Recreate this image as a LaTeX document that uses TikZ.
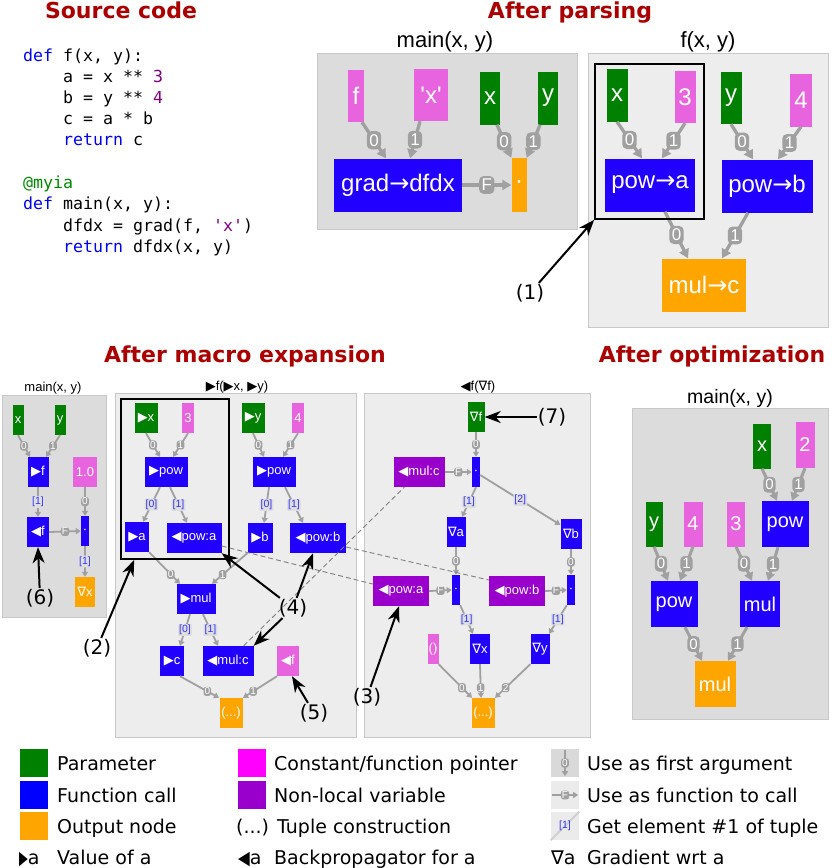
\documentclass[tikz,border=0pt]{standalone}
\usepackage{fontspec}
\setmainfont{DejaVu Sans}
\setmonofont{DejaVu Sans Mono}
\newfontfamily\nodefont{Liberation Sans}
\newfontfamily\dejavu{DejaVu Sans}
\usepackage{graphicx}
\usepackage{tikz}
\usetikzlibrary{arrows.meta}

\definecolor{parmgreen}{RGB}{0,128,0}
\definecolor{callblue}{RGB}{34,0,255}
\definecolor{outorange}{RGB}{255,165,0}
\definecolor{cstpink}{RGB}{232,100,222}
\definecolor{nlpurple}{RGB}{153,0,204}
\definecolor{edgegray}{RGB}{160,160,160}
\definecolor{paneldark}{RGB}{220,220,220}
\definecolor{panellight}{RGB}{237,237,237}
\definecolor{panelline}{RGB}{200,200,200}
\definecolor{headred}{RGB}{170,0,0}
\definecolor{idxblue}{RGB}{51,51,255}
\definecolor{kwblue}{RGB}{0,0,238}
\definecolor{numpurple}{RGB}{128,0,128}
\definecolor{decgreen}{RGB}{0,136,0}
\definecolor{lmagenta}{RGB}{255,0,255}

\newcommand\fwd{{\dejavu ▶}}
\newcommand\bwd{{\dejavu ◀}}
\newcommand\grd{{\dejavu ∇}}
\newcommand\arr{{\dejavu →}}
\newcommand\kw[1]{\textcolor{kwblue}{#1}}
\newcommand\lit[1]{\textcolor{numpurple}{#1}}
\newcommand\deco[1]{\textcolor{decgreen}{#1}}

\tikzset{
  heading/.style={anchor=base, text=headred, font=\bfseries\fontsize{22}{22}\selectfont},
  src/.style={anchor=base west, inner sep=0pt, font=\ttfamily\fontsize{16.6}{20}\selectfont},
  ptitle/.style={anchor=base, inner sep=0pt},
  pdark/.style={fill=paneldark, draw=panelline, line width=1pt},
  plight/.style={fill=panellight, draw=panelline, line width=1pt},
  sz/.style 2 args={minimum width=#1, minimum height=#2},
  box/.style={inner sep=0pt, text=white},
  parm/.style={box, fill=parmgreen},
  cst/.style={box, fill=cstpink},
  call/.style={box, fill=callblue},
  outp/.style={box, fill=outorange},
  nlv/.style={box, fill=nlpurple},
  fbig/.style={font=\nodefont\fontsize{24}{24}\selectfont},
  fmid/.style={font=\nodefont\fontsize{20}{20}\selectfont},
  fsml/.style={font=\nodefont\fontsize{13}{13}\selectfont},
  ebig/.style={draw=edgegray, line width=3.3pt, -{Triangle[length=9pt,width=10pt]}},
  emid/.style={draw=edgegray, line width=3pt, -{Triangle[length=8pt,width=9pt]}},
  esml/.style={draw=edgegray, line width=1.8pt, -{Triangle[length=5pt,width=6pt]}},
  lab/.style={fill=edgegray, text=white, rounded corners=4.5pt, inner xsep=2.5pt, inner ysep=3pt, font=\nodefont\fontsize{17}{17}\selectfont},
  labm/.style={fill=edgegray, text=white, rounded corners=4pt, inner xsep=2pt, inner ysep=2.5pt, font=\nodefont\fontsize{15}{15}\selectfont},
  labs/.style={fill=edgegray, text=white, rounded corners=2.5pt, inner sep=1pt, font=\nodefont\fontsize{10}{10}\selectfont},
  idx/.style={fill=black!13, text=idxblue, rounded corners=1pt, inner sep=1pt, font=\nodefont\fontsize{10.5}{10.5}\selectfont},
  dsh/.style={draw=gray, line width=.9pt, dash pattern=on 5pt off 3pt},
  hl/.style={draw=black, line width=1.6pt, inner sep=0pt},
  note/.style={inner sep=1pt, font=\fontsize{20}{20}\selectfont},
  ptr/.style={line width=2pt, -{Stealth[length=16pt,width=12pt,inset=5pt]}},
  legsq/.style={minimum size=28, inner sep=0pt},
  legtxt/.style={anchor=base west, inner sep=0pt, font=\fontsize{19}{19}\selectfont},
  icon/.style={minimum size=28, inner sep=0pt, fill=black!15}
}

\begin{document}
\begin{tikzpicture}[x=1pt, y=-1pt]
  \useasboundingbox (0,0) rectangle (831,868);

  % headings
  \node[heading] (hsrc) at (121,18) {Source code};
  \node[heading] (hparse) at (570,18) {After parsing};
  \node[heading] (hmacro) at (245,362) {After macro expansion};
  \node[heading] (hopt) at (712,362) {After optimization};

  % source code
  \node[src] (c1) at (23,61) {\kw{def} f(x, y):};
  \node[src] (c2) at (63,82) {a = x ** \lit{3}};
  \node[src] (c3) at (63,103) {b = y ** \lit{4}};
  \node[src] (c4) at (63,124) {c = a * b};
  \node[src] (c5) at (63,145) {\kw{return} c};
  \node[src] (c6) at (23,188) {\deco{@myia}};
  \node[src] (c7) at (23,209) {\kw{def} main(x, y):};
  \node[src] (c8) at (63,231) {dfdx = grad(f, \lit{\textquotesingle x\textquotesingle})};
  \node[src] (c9) at (63,252) {\kw{return} dfdx(x, y)};

  % panels
  \draw[pdark] (317,53) rectangle (577,229);
  \draw[plight] (588,53) rectangle (828,327);
  \draw[pdark] (2,395) rectangle (106,617);
  \draw[plight] (115,393) rectangle (356,737);
  \draw[plight] (364,393) rectangle (590,737);
  \draw[pdark] (632,408) rectangle (828,719);
  \node[ptitle, font=\nodefont\fontsize{22}{22}\selectfont] (tmain) at (445,47) {main(x, y)};
  \node[ptitle, font=\nodefont\fontsize{22}{22}\selectfont] (tf) at (708,47) {f(x, y)};
  \node[ptitle, fsml] (tsmain) at (53,391) {main(x, y)};
  \node[ptitle, fsml] (tfwd) at (237,390) {\fwd f(\fwd x, \fwd y)};
  \node[ptitle, fsml] (tbwd) at (478,390) {\bwd f(\grd f)};
  \node[ptitle, font=\nodefont\fontsize{19.5}{19.5}\selectfont] (topt) at (730,403) {main(x, y)};

  % after parsing: main
  \node[cst, fbig, sz={16}{52}] (mf) at (356,96) {f};
  \node[cst, fbig, sz={34}{52}] (mxs) at (431,95) {\textquotesingle x\textquotesingle};
  \node[parm, fbig, sz={20}{53}] (mx) at (490,98) {x};
  \node[parm, fbig, sz={20}{53}] (my) at (548,98) {y};
  \node[call, fbig, sz={128}{53}] (mgrad) at (398,185) {grad\arr dfdx};
  \node[outp, fbig, sz={15}{54}] (mcall) at (519,185) {·};
  \draw[ebig] ([xshift=6]mf.south) -- node[lab]{0} ([xshift=-12]mgrad.north);
  \draw[ebig] ([xshift=-11]mxs.south) -- node[lab]{1} ([xshift=12]mgrad.north);
  \draw[ebig] ([xshift=7]mx.south) -- node[lab]{0} (mcall.north west);
  \draw[ebig] ([xshift=-8]my.south) -- node[lab]{1} (mcall.north east);
  \draw[ebig] (mgrad.east) -- node[lab]{F} (mcall.west);

  % after parsing: f
  \node[parm, fbig, sz={21}{53}] (fx) at (617,95) {x};
  \node[cst, fbig, sz={21}{52}] (f3) at (685,97) {3};
  \node[parm, fbig, sz={21}{52}] (fy) at (731,98) {y};
  \node[cst, fbig, sz={22}{53}] (f4) at (801,100) {4};
  \node[call, fbig, sz={90}{53}] (fpowa) at (650,185) {pow\arr a};
  \node[call, fbig, sz={91}{53}] (fpowb) at (767,186) {pow\arr b};
  \node[outp, fbig, sz={84}{53}] (fmul) at (704,285) {mul\arr c};
  \draw[ebig] (fx.south) -- node[lab]{0} ([xshift=-8]fpowa.north);
  \draw[ebig] (f3.south) -- node[lab]{1} ([xshift=12]fpowa.north);
  \draw[ebig] (fy.south) -- node[lab]{0} ([xshift=-14]fpowb.north);
  \draw[ebig] (f4.south) -- node[lab]{1} ([xshift=11]fpowb.north);
  \draw[ebig] ([xshift=15]fpowa.south) -- node[lab]{0} ([xshift=-16]fmul.north);
  \draw[ebig] ([xshift=-19]fpowb.south) -- node[lab]{1} ([xshift=18]fmul.north);
  \node[hl, sz={109}{155}] (hl1) at (649.5,141.5) {};

  % macro expansion: main
  \node[parm, fsml, sz={11}{30}] (sx) at (18,420) {x};
  \node[parm, fsml, sz={11}{30}] (sy) at (60,420) {y};
  \node[call, fsml, sz={21}{30}] (sff) at (38,472) {\fwd f};
  \node[cst, fsml, sz={24}{30}] (sone) at (85,472) {1.0};
  \node[call, fsml, sz={22}{30}] (sbf) at (38,532) {\bwd f};
  \node[call, fsml, sz={8}{30}] (scall) at (85,531) {·};
  \node[outp, fsml, sz={20}{30}] (sgx) at (85,592) {\grd x};
  \draw[esml] (sx.south) -- node[labs]{0} ([xshift=-8]sff.north);
  \draw[esml] (sy.south) -- node[labs]{1} ([xshift=8]sff.north);
  \draw[esml] (sff.south) -- node[idx]{[1]} (sbf.north);
  \draw[esml] (sone.south) -- node[labs]{0} (scall.north);
  \draw[esml] (sbf.east) -- node[labs]{F} (scall.west);
  \draw[esml] (scall.south) -- node[idx]{[1]} (sgx.north);

  % macro expansion: forward f
  \node[parm, fsml, sz={23}{30}] (bx) at (146,418) {\fwd x};
  \node[cst, fsml, sz={12}{30}] (b3) at (188,418) {3};
  \node[parm, fsml, sz={23}{30}] (by) at (253,418) {\fwd y};
  \node[cst, fsml, sz={12}{30}] (b4) at (298,418) {4};
  \node[call, fsml, sz={43}{30}] (bpowa) at (166,472) {\fwd pow};
  \node[call, fsml, sz={43}{30}] (bpowb) at (274,472) {\fwd pow};
  \node[call, fsml, sz={24}{30}] (ba) at (137,537) {\fwd a};
  \node[call, fsml, sz={55}{30}] (bpa) at (194,538) {\bwd pow:a};
  \node[call, fsml, sz={25}{30}] (bb) at (260,538) {\fwd b};
  \node[call, fsml, sz={56}{30}] (bpb) at (318,538) {\bwd pow:b};
  \node[call, fsml, sz={39}{30}] (bmul) at (196,599) {\fwd mul};
  \node[call, fsml, sz={24}{30}] (bc) at (172,661) {\fwd c};
  \node[call, fsml, sz={51}{30}] (bmc) at (228,661) {\bwd mul:c};
  \node[cst, fsml, sz={22}{30}] (bf) at (288,661) {\bwd f};
  \node[outp, fsml, sz={23}{30}] (btup) at (231,713) {(...)};
  \draw[esml] (bx.south) -- node[labs]{0} ([xshift=-6]bpowa.north);
  \draw[esml] (b3.south) -- node[labs]{1} ([xshift=7]bpowa.north);
  \draw[esml] (by.south) -- node[labs]{0} ([xshift=-10]bpowb.north);
  \draw[esml] (b4.south) -- node[labs]{1} ([xshift=9]bpowb.north);
  \draw[esml] ([xshift=-6]bpowa.south) -- node[idx]{[0]} ([xshift=6]ba.north);
  \draw[esml] ([xshift=4]bpowa.south) -- node[idx]{[1]} ([xshift=-7]bpa.north);
  \draw[esml] ([xshift=-5]bpowb.south) -- node[idx]{[0]} ([xshift=4]bb.north);
  \draw[esml] ([xshift=11]bpowb.south) -- node[idx]{[1]} ([xshift=-15]bpb.north);
  \draw[esml] (ba.south east) -- node[labs, pos=.7]{0} ([xshift=-16]bmul.north);
  \draw[esml] (bb.south west) -- node[labs, pos=.7]{1} ([xshift=16]bmul.north);
  \draw[esml] ([xshift=-6]bmul.south) -- node[idx]{[0]} ([xshift=8]bc.north);
  \draw[esml] ([xshift=7]bmul.south) -- node[idx]{[1]} ([xshift=-10]bmc.north);
  \draw[esml] ([xshift=8]bc.south) -- node[labs, pos=.7]{0} ([xshift=-12]btup.north);
  \draw[esml] ([xshift=-11]bf.south) -- node[labs, pos=.7]{1} ([xshift=12]btup.north);
  \node[hl, sz={108}{160}] (hl2) at (175,479) {};

  % macro expansion: backward f
  \node[parm, fsml, sz={17}{30}] (gf) at (476,417) {\grd f};
  \node[nlv, fsml, sz={51}{30}] (gmc) at (419,472) {\bwd mul:c};
  \node[call, fsml, sz={8}{30}] (gcall) at (476,472) {·};
  \node[call, fsml, sz={19}{30}] (ga) at (456,532) {\grd a};
  \node[call, fsml, sz={21}{30}] (gb) at (571,534) {\grd b};
  \node[nlv, fsml, sz={56}{30}] (gpa) at (401,591) {\bwd pow:a};
  \node[call, fsml, sz={8}{30}] (gcalla) at (456,590) {·};
  \node[nlv, fsml, sz={56}{30}] (gpb) at (517,591) {\bwd pow:b};
  \node[call, fsml, sz={8}{30}] (gcallb) at (571,590) {·};
  \node[cst, fsml, sz={11}{30}] (gnil) at (433,649) {()};
  \node[call, fsml, sz={20}{30}] (gx) at (480,649) {\grd x};
  \node[call, fsml, sz={19}{30}] (gy) at (540,649) {\grd y};
  \node[outp, fsml, sz={23}{30}] (gtup) at (483,713) {(...)};
  \draw[esml] (gf.south) -- node[labs]{0} (gcall.north);
  \draw[esml] (gmc.east) -- node[labs]{F} (gcall.west);
  \draw[esml] (gcall.south) -- node[idx]{[1]} ([xshift=6]ga.north);
  \draw[esml] ([yshift=-3]gcall.east) -- node[idx]{[2]} ([yshift=-6]gb.north west);
  \draw[esml] (ga.south) -- node[labs]{0} (gcalla.north);
  \draw[esml] (gb.south) -- node[labs]{0} (gcallb.north);
  \draw[esml] (gpa.east) -- node[labs]{F} (gcalla.west);
  \draw[esml] (gpb.east) -- node[labs]{F} (gcallb.west);
  \draw[esml] (gcalla.south east) -- node[idx]{[1]} ([xshift=-7]gx.north);
  \draw[esml] (gcallb.south west) -- node[idx]{[1]} ([xshift=9]gy.north);
  \draw[esml] (gnil.south east) -- node[labs, pos=.7]{0} ([xshift=-11]gtup.north);
  \draw[esml] (gx.south) -- node[labs, pos=.7]{1} ([xshift=-2]gtup.north);
  \draw[esml] (gy.south west) -- node[labs, pos=.7]{2} ([xshift=12]gtup.north);

  % non-local references
  \draw[dsh] ([yshift=-8]bpa.east) -- ([yshift=7]gpa.west);
  \draw[dsh] ([yshift=-9]bpb.east) -- ([yshift=11]gpb.west);
  \draw[dsh] ([xshift=-10]bmc.north east) -- ([xshift=11]gmc.south west);

  % after optimization
  \node[parm, fmid, sz={18}{45}] (ox) at (762,446) {x};
  \node[cst, fmid, sz={19}{46}] (o2) at (805,445) {2};
  \node[parm, fmid, sz={17}{45}] (oy) at (654,524) {y};
  \node[cst, fmid, sz={19}{45}] (o4) at (693,524) {4};
  \node[cst, fmid, sz={18}{45}] (o3) at (736,524) {3};
  \node[call, fmid, sz={47}{46}] (opow) at (785,524) {pow};
  \node[call, fmid, sz={47}{46}] (opowl) at (674,604) {pow};
  \node[call, fmid, sz={40}{46}] (omul) at (760,604) {mul};
  \node[outp, fmid, sz={41}{46}] (oout) at (715,684) {mul};
  \draw[emid] (ox.south) -- node[labm]{0} ([xshift=-8]opow.north);
  \draw[emid] (o2.south) -- node[labm]{1} ([xshift=7]opow.north);
  \draw[emid] (oy.south) -- node[labm]{0} ([xshift=-6]opowl.north);
  \draw[emid] (o4.south) -- node[labm]{1} ([xshift=6]opowl.north);
  \draw[emid] (o3.south) -- node[labm]{0} ([xshift=-8]omul.north);
  \draw[emid] ([xshift=-7]opow.south) -- node[labm]{1} ([xshift=8]omul.north);
  \draw[emid] ([xshift=11]opowl.south) -- node[labm]{0} ([xshift=-13]oout.north);
  \draw[emid] ([xshift=-13]omul.south) -- node[labm]{1} ([xshift=13]oout.north);

  % numbered notes
  \node[note] (n1) at (530,293) {(1)};
  \node[note] (n2) at (97,648) {(2)};
  \node[note] (n3) at (367,697) {(3)};
  \node[note] (n4) at (293,608) {(4)};
  \node[note] (n5) at (314,713) {(5)};
  \node[note] (n6) at (40,598) {(6)};
  \node[note] (n7) at (552,417) {(7)};
  \draw[ptr] (n1) -- (hl1.south west);
  \draw[ptr] (n2) -- ([xshift=14]hl2.south west);
  \draw[ptr] (n3) -- ([xshift=-2]gpa.south);
  \draw[ptr] (n4) -- (bpa.south east);
  \draw[ptr] (n4) -- ([xshift=-5]bpb.south);
  \draw[ptr] (n4) -- (bmc.north east);
  \draw[ptr] (n5) -- ([xshift=4]bf.south);
  \draw[ptr] (n6) -- (sbf.south);
  \draw[ptr] (n7) -- (gf.east);

  % legend
  \node[legsq, fill=parmgreen] (k1) at (34,763) {};
  \node[legtxt] (t1) at (57,770) {Parameter};
  \node[legsq, fill=blue] (k2) at (34,795) {};
  \node[legtxt] (t2) at (57,802) {Function call};
  \node[legsq, fill=outorange] (k3) at (34,826) {};
  \node[legtxt] (t3) at (57,833) {Output node};
  \node[legtxt] (k4) at (19,864) {\scalebox{.6}[1]{\fwd}a};
  \node[legtxt] (t4) at (57,864) {Value of a};
  \node[legsq, fill=lmagenta] (k5) at (252,763) {};
  \node[legtxt] (t5) at (274,770) {Constant/function pointer};
  \node[legsq, fill=nlpurple] (k6) at (252,795) {};
  \node[legtxt] (t6) at (274,802) {Non-local variable};
  \node[legtxt] (t7) at (236,833) {(...) Tuple construction};
  \node[legtxt] (k8) at (238,864) {\scalebox{.8}[1]{\bwd}a};
  \node[legtxt] (t8) at (274,864) {Backpropagator for a};
  \node[icon] (k9) at (565,763) {};
  \draw[esml, line width=2.4pt] ([yshift=-1]k9.north) -- node[labs]{0} ([yshift=1]k9.south);
  \node[legtxt] (t9) at (587,770) {Use as first argument};
  \node[icon, fill=black!8] (k10) at (565,795) {};
  \draw[esml, line width=2.4pt] ([xshift=1]k10.west) -- node[labs]{F} ([xshift=-1]k10.east);
  \node[legtxt] (t10) at (587,802) {Use as function to call};
  \node[icon, fill=black!8] (k11) at (565,826) {};
  \draw[edgegray!50, line width=2pt] (k11.south west) -- (k11.north east);
  \node[idx, fill=none] (k11t) at (k11) {[1]};
  \node[legtxt] (t11) at (587,833) {Get element \#1 of tuple};
  \node[legtxt] (k12) at (551,864) {\grd a};
  \node[legtxt] (t12) at (587,864) {Gradient wrt a};
\end{tikzpicture}
\end{document}
